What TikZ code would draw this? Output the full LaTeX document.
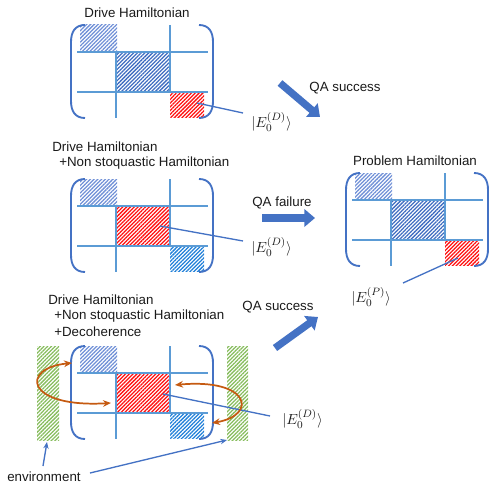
\documentclass[tikz,border=0pt]{standalone}
\usepackage{fontspec}
\setmainfont{Liberation Sans}
\usetikzlibrary{patterns.meta,arrows.meta}
\definecolor{brk}{HTML}{4472C4}
\definecolor{grd}{HTML}{5B9BD5}
\definecolor{tlb}{HTML}{6F8FD6}
\definecolor{cb}{HTML}{3F6CC0}
\definecolor{brb}{HTML}{1F7FD8}
\definecolor{rd}{HTML}{FF1010}
\definecolor{gn}{HTML}{86BC5C}
\definecolor{org}{HTML}{C55A11}
\definecolor{txt}{HTML}{1A1A1A}
\tikzset{
  bracket/.style={draw=brk,line width=1.4pt},
  gridline/.style={draw=grd,line width=1pt},
  hatch/.style={pattern={Lines[angle=45,distance=2pt,line width=0.95pt]},pattern color=#1},
  bigarrow/.style={draw=brk,line width=5.5pt,-{Triangle[length=8pt,width=13pt]}},
  thinline/.style={draw=brk,line width=1pt},
  thinarrow/.style={thinline,-{Stealth[length=5pt,width=4pt]}},
  orangearrow/.style={draw=org,line width=1.3pt,{Stealth[length=6pt,width=5pt]}-{Stealth[length=6pt,width=5pt]}},
  lbl/.style={font=\fontsize{10}{12}\selectfont,text=txt,inner sep=0pt},
  ket/.style={font=\fontsize{11}{13}\selectfont,text=txt,inner sep=0pt}
}
\newcommand{\hmat}[5]{%
\begin{scope}[shift={(#1,#2)}]
 \path[hatch=#3] (9,0) rectangle (46,27);
 \path[hatch=#4] (45,27) rectangle (99,67);
 \path[hatch=#5] (99,67) rectangle (133,92);
 \draw[gridline] (6,27) -- (137,27) (6,67) -- (137,67) (45,27) -- (45,93) (99,0) -- (99,67);
 \draw[bracket] (14,0) .. controls (4,0) and (0,7) .. (0,17) -- (0,76) .. controls (0,86) and (4,93) .. (14,93);
 \draw[bracket] (128,0) .. controls (138,0) and (142,7) .. (142,17) -- (142,76) .. controls (142,86) and (138,93) .. (128,93);
\end{scope}}
\begin{document}
\begin{tikzpicture}[x=0.75pt,y=-0.75pt]
\useasboundingbox (0,0) rectangle (491,492);
% green environment bars
\path[hatch=gn] (37,346) rectangle (59,440);
\path[hatch=gn] (227,346) rectangle (248,440);
% matrices
\hmat{71}{25}{tlb}{cb}{rd}
\hmat{71}{179}{tlb}{rd}{brb}
\hmat{71}{346}{tlb}{rd}{brb}
\hmat{346}{173}{tlb}{cb}{rd}
% titles
\node[lbl] (t1) at (137,13) {Drive Hamiltonian};
\node[lbl,anchor=west] (t2a) at (52,147) {Drive Hamiltonian};
\node[lbl,anchor=west] (t2b) at (59,163) {+Non stoquastic Hamiltonian};
\node[lbl,anchor=west] (t3a) at (48,300) {Drive Hamiltonian};
\node[lbl,anchor=west] (t3b) at (54,316) {+Non stoquastic Hamiltonian};
\node[lbl,anchor=west] (t3c) at (54,332) {+Decoherence};
\node[lbl] (tp) at (415,161) {Problem Hamiltonian};
\node[lbl] (qa1) at (345,88) {QA success};
\node[lbl] (qa2) at (282,203) {QA failure};
\node[lbl] (qa3) at (278,307) {QA success};
\node[lbl,anchor=west] (env) at (7,477) {environment};
% kets
\node[ket,anchor=west] (e1) at (251,122) {$|E_0^{(D)}\rangle$};
\node[ket,anchor=west] (e2) at (251,247) {$|E_0^{(D)}\rangle$};
\node[ket,anchor=west] (e3) at (282,419) {$|E_0^{(D)}\rangle$};
\node[ket,anchor=west] (ep) at (351,297) {$|E_0^{(P)}\rangle$};
% connector coordinates
\coordinate (s1) at (197,103); \coordinate (f1) at (243,113);
\coordinate (s2) at (160,226); \coordinate (f2) at (243,241);
\coordinate (s3) at (163,394); \coordinate (f3) at (270,416);
\coordinate (sp) at (458,258); \coordinate (fp) at (403,283);
\draw[thinline] (s1) -- (f1);
\draw[thinline] (s2) -- (f2);
\draw[thinline] (s3) -- (f3);
\draw[thinline] (sp) -- (fp);
% big arrows
\coordinate (a1s) at (280,83); \coordinate (a1e) at (320,117);
\coordinate (a2s) at (262,218); \coordinate (a2e) at (315,218);
\coordinate (a3s) at (275,348); \coordinate (a3e) at (318,317);
\draw[bigarrow] (a1s) -- (a1e);
\draw[bigarrow] (a2s) -- (a2e);
\draw[bigarrow] (a3s) -- (a3e);
% decoherence arrows
\coordinate (o1s) at (72,363); \coordinate (o1e) at (111,403);
\coordinate (o2s) at (175,385); \coordinate (o2e) at (212,423);
\draw[orangearrow] (o1s) .. controls (20,368) and (25,408) .. (o1e);
\draw[orangearrow] (o2s) .. controls (250,378) and (258,415) .. (o2e);
% environment arrows
\coordinate (gl) at (47,442); \coordinate (gr) at (227,440);
\coordinate (ev1) at (43,466); \coordinate (ev2) at (90,473);
\draw[thinarrow] (ev1) -- (gl);
\draw[thinarrow] (ev2) -- (gr);
\end{tikzpicture}
\end{document}
